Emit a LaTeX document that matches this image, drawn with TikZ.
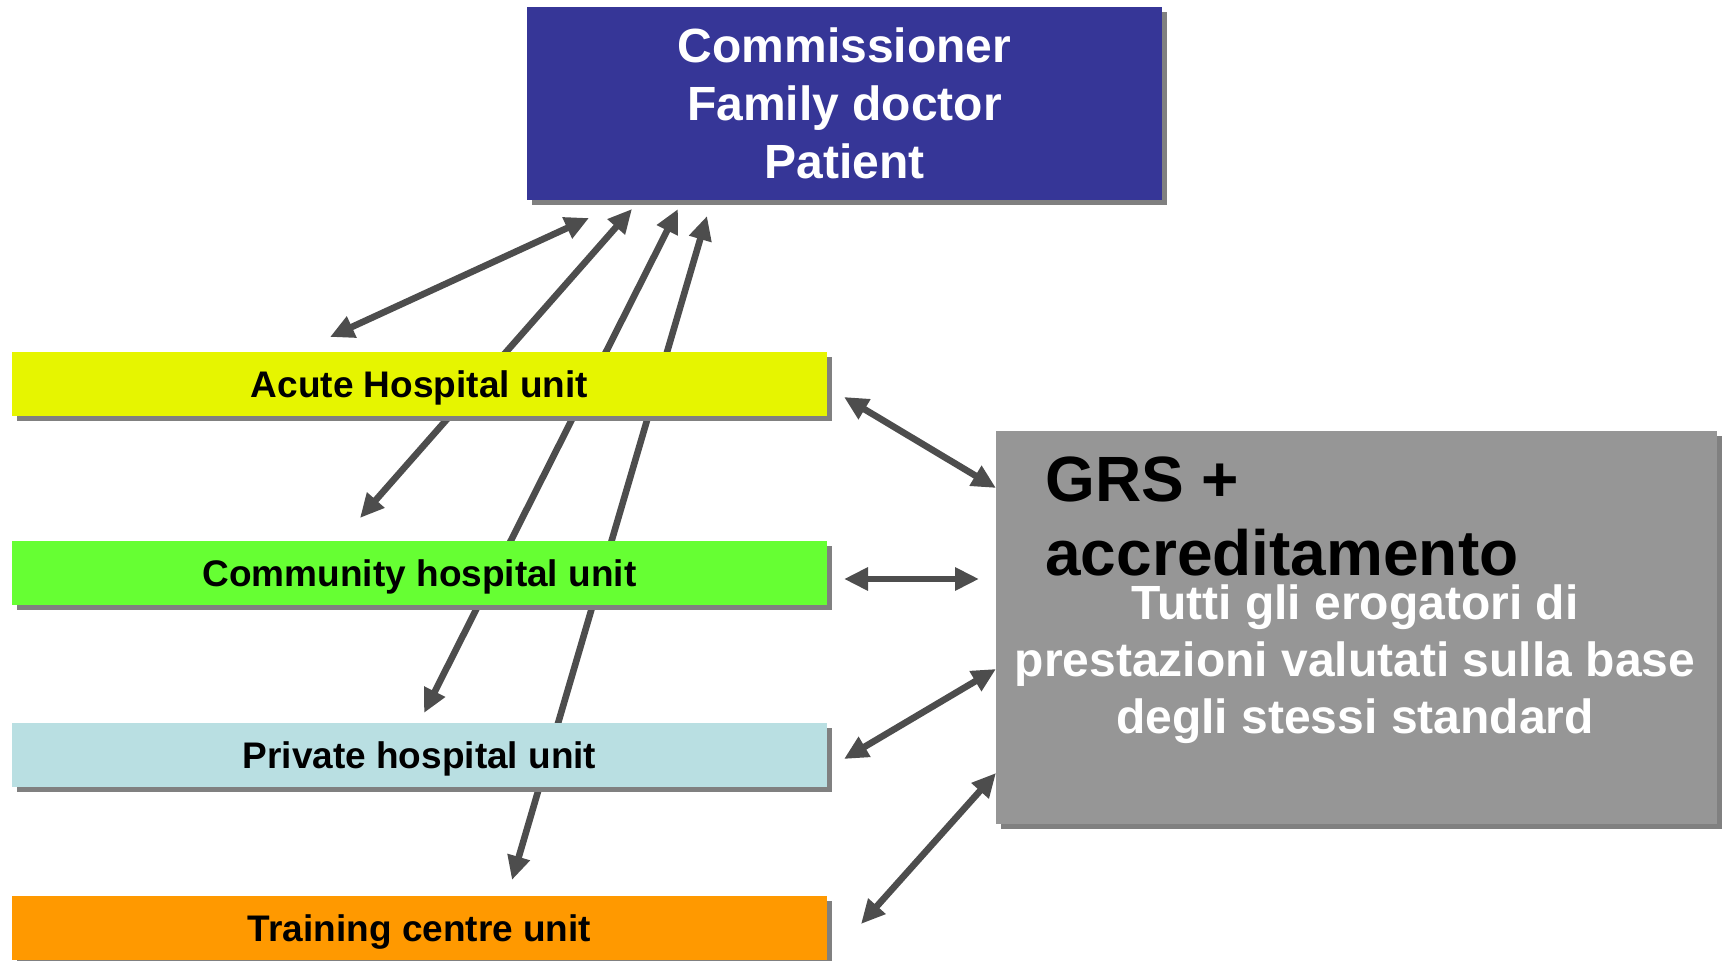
\documentclass[tikz,border=0pt]{standalone}
\usepackage{fontspec}
\setmainfont{Liberation Sans}
\usetikzlibrary{arrows.meta,shadows,backgrounds}

\definecolor{headblue}{RGB}{54,54,151}
\definecolor{acutefill}{RGB}{230,245,0}
\definecolor{commfill}{RGB}{102,255,51}
\definecolor{privfill}{RGB}{185,223,226}
\definecolor{trainfill}{RGB}{255,153,0}
\definecolor{grsfill}{RGB}{150,150,150}
\definecolor{shadowgray}{RGB}{128,128,128}
\definecolor{linkgray}{RGB}{77,77,77}

\tikzset{
  flatshadow/.style={drop shadow={shadow xshift=2.5pt, shadow yshift=-2.5pt,
      fill=shadowgray, opacity=1}},
  unitbox/.style={rectangle, inner sep=0pt, flatshadow,
      minimum width=407.5pt, minimum height=32pt,
      font=\bfseries\fontsize{18.5}{22}\selectfont,
      text height=13.25pt, text depth=0pt},
  link/.style={draw=linkgray, line width=3.3pt,
      {Triangle[length=12pt,width=11pt]}-{Triangle[length=12pt,width=11pt]}},
}

\begin{document}
\begin{tikzpicture}[x=0.5pt, y=-0.5pt]
\useasboundingbox (0,0) rectangle (1725,961);

% commissioner box
\node[rectangle, inner sep=0pt, flatshadow, fill=headblue, text=white,
      minimum width=317.5pt, minimum height=96.5pt, align=center,
      font=\bfseries\fontsize{24}{29}\selectfont]
  (head) at (844.5,103.5) {Commissioner\\Family doctor\\Patient};

% provider units
\node[unitbox, fill=acutefill] (acute) at (419.5,384) {Acute Hospital unit};
\node[unitbox, fill=commfill]  (comm)  at (419.5,573) {Community hospital unit};
\node[unitbox, fill=privfill]  (priv)  at (419.5,755) {Private hospital unit};
\node[unitbox, fill=trainfill] (train) at (419.5,928) {Training centre unit};

% accreditation box
\node[rectangle, inner sep=0pt, flatshadow, fill=grsfill,
      minimum width=360.5pt, minimum height=196.5pt] (grs) at (1356.5,627.5) {};
\node[inner sep=0pt, anchor=south west, align=left,
      font=\bfseries\fontsize{32}{37}\selectfont]
  (grstitle) at (1045,577) {GRS +\\accreditamento};
\node[inner sep=0pt, align=center, text=white,
      font=\bfseries\fontsize{24}{28.5}\selectfont]
  (grsbody) at (1355,664) {Tutti gli erogatori di\\prestazioni valutati sulla base\\degli stessi standard};

% connector ends
\coordinate (h1) at (589,218);  \coordinate (u1) at (330,337);
\coordinate (h2) at (632,209);  \coordinate (u2) at (360,518);
\coordinate (h3) at (678,209);  \coordinate (u3) at (424,713);
\coordinate (h4) at (707,216);  \coordinate (u4) at (512,880);
\coordinate (ae) at (844,397);  \coordinate (ge1) at (996,488);
\coordinate (ce) at (844,579);  \coordinate (ge2) at (979,579);
\coordinate (pe) at (844,759);  \coordinate (ge3) at (996,669);
\coordinate (te) at (861,924);  \coordinate (ge4) at (996,773);

\begin{scope}[on background layer]
  \draw[link] (u1) -- (h1);
  \draw[link] (u2) -- (h2);
  \draw[link] (u3) -- (h3);
  \draw[link] (u4) -- (h4);
  \draw[link] (ae) -- (ge1);
  \draw[link] (ce) -- (ge2);
  \draw[link] (pe) -- (ge3);
  \draw[link] (te) -- (ge4);
\end{scope}
\end{tikzpicture}
\end{document}
